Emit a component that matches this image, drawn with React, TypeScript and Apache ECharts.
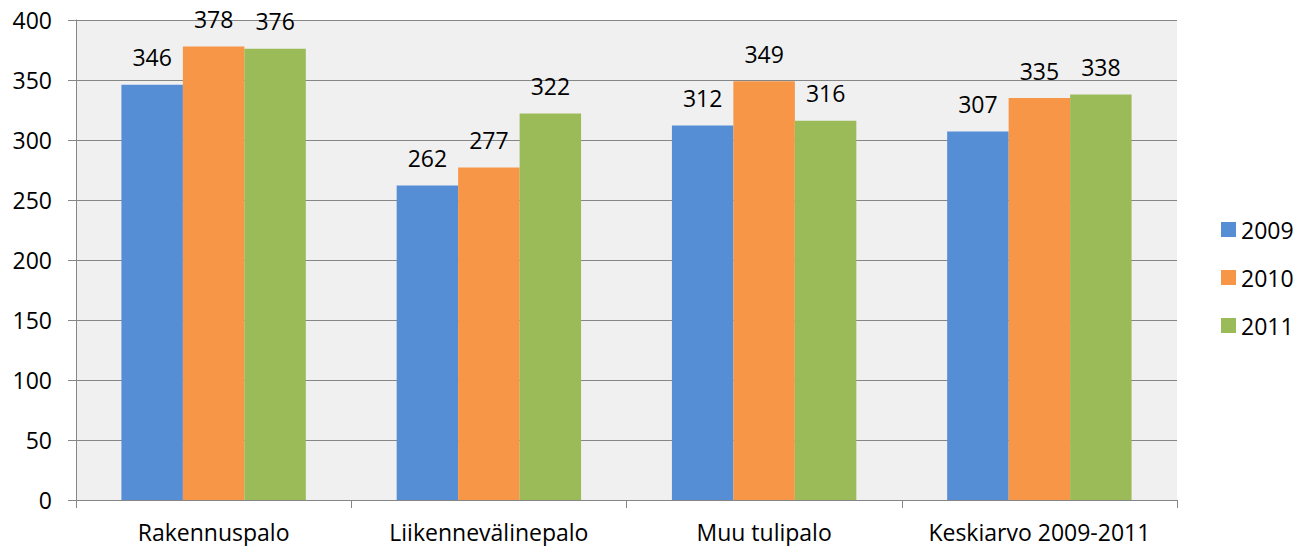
import React, { useEffect, useRef } from "react";
import * as echarts from "echarts";

const categories = ["Rakennuspalo", "Liikennevälinepalo", "Muu tulipalo", "Keskiarvo 2009-2011"];
const seriesNames = ["2009", "2010", "2011"];
const values2009 = [346, 262, 312, 307];
const values2010 = [378, 277, 349, 335];
const values2011 = [376, 322, 316, 338];
const colors = ["#558ed5", "#f79646", "#9bbb59"];

export default function App() {
  const ref = useRef<HTMLDivElement>(null);
  useEffect(() => {
    const chart = echarts.init(ref.current!, null, { renderer: "svg" });
    const font = "'Open Sans', 'Liberation Sans', sans-serif";
    const data = [values2009, values2010, values2011];
    chart.setOption({
      animation: false,
      textStyle: { fontFamily: font },
      grid: { left: 76, right: 136, top: 20, bottom: 46, show: true, backgroundColor: "#f0f0f0", borderWidth: 0 },
      legend: {
        orient: "vertical",
        left: 1221,
        top: 218,
        padding: 0,
        itemWidth: 15,
        itemHeight: 15,
        itemGap: 25,
        icon: "rect",
        textStyle: { fontSize: 23, lineHeight: 23, color: "#000", fontFamily: font },
        data: seriesNames,
      },
      xAxis: {
        type: "category",
        data: categories,
        axisLine: { lineStyle: { color: "#868686", width: 1 } },
        axisTick: { show: true, length: 8, lineStyle: { color: "#868686" } },
        axisLabel: { interval: 0, fontSize: 23, color: "#000", margin: 20, fontFamily: font },
        splitLine: { show: false },
      },
      yAxis: {
        type: "value",
        min: 0,
        max: 400,
        interval: 50,
        axisLine: { show: true, lineStyle: { color: "#868686", width: 1 } },
        axisTick: { show: true, length: 8, inside: false, lineStyle: { color: "#868686" } },
        axisLabel: { fontSize: 23, color: "#000", margin: 24, fontFamily: font },
        splitLine: { lineStyle: { color: "#868686", width: 1 } },
      },
      series: data.map((d, i) => ({
        name: seriesNames[i],
        type: "bar",
        data: d,
        barGap: "0%",
        barCategoryGap: "33%",
        itemStyle: { color: colors[i] },
        label: { show: true, position: "top", distance: 16, fontSize: 23, color: "#000", fontFamily: font },
      })),
    });
    return () => chart.dispose();
  }, []);
  return <div ref={ref} style={{ width: 1313, height: 546, position: "absolute", left: 0, top: 0, background: "#fff" }} />;
}
